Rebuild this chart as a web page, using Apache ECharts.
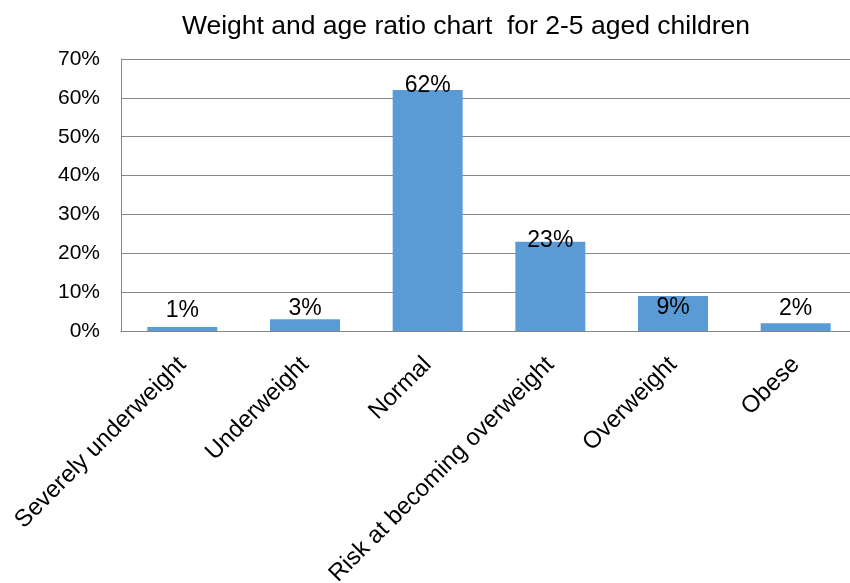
<!DOCTYPE html>
<html>
<head>
<meta charset="utf-8">
<title>Weight and age ratio chart for 2-5 aged children</title>
<script src="https://cdn.jsdelivr.net/npm/echarts@6/dist/echarts.min.js"></script>
<style>
  html, body { margin: 0; padding: 0; background: #fff; overflow: hidden; }
  #chart { width: 850px; height: 583px; }
</style>
</head>
<body>
<div id="chart"></div>
<script>
// Weight-for-age categories and the share of children (in %) in each
const categories = [
  'Severely underweight',
  'Underweight',
  'Normal',
  'Risk at becoming overweight',
  'Overweight',
  'Obese'
];
const shares = [1, 3, 62, 23, 9, 2];
const yTicks = [0, 10, 20, 30, 40, 50, 60, 70];

// Vertical nudge of each value label (px, positive = downward)
const labelNudge = [0, 6, 12, 16, 28, 2];

const FONT = '"Liberation Sans", Arial, sans-serif';

const chart = echarts.init(document.getElementById('chart'), null, { renderer: 'canvas' });

chart.setOption({
  animation: false,
  backgroundColor: '#ffffff',
  title: {
    text: 'Weight and age ratio chart  for 2-5 aged children',
    left: 461,
    top: 8,
    textAlign: 'center',
    textStyle: { fontFamily: FONT, fontSize: 26.5, fontWeight: 'normal', color: '#000' }
  },
  // the plot runs a little past the right edge of the canvas
  grid: {
    left: 121, width: 736, top: 59, height: 272,
    containLabel: false,
    outerBoundsMode: 'none'
  },
  xAxis: {
    type: 'category',
    data: categories,
    axisLine: { show: true, lineStyle: { color: '#868686', width: 1 } },
    axisTick: { show: false },
    axisLabel: {
      interval: 0,
      rotate: 45,
      margin: 30,
      fontFamily: FONT,
      fontSize: 24,
      color: '#000'
    }
  },
  yAxis: {
    type: 'value',
    min: yTicks[0],
    max: yTicks[yTicks.length - 1],
    interval: yTicks[1] - yTicks[0],
    axisLine: { show: true, lineStyle: { color: '#868686', width: 1 } },
    axisTick: { show: false },
    splitLine: { show: true, lineStyle: { color: '#868686', width: 1 } },
    axisLabel: {
      margin: 21,
      fontFamily: FONT,
      fontSize: 21,
      color: '#000',
      formatter: v => v + '%'
    }
  },
  series: [{
    type: 'bar',
    barWidth: 70,
    itemStyle: { color: '#5B9BD5' },
    label: {
      show: true,
      position: 'top',
      distance: 5,
      fontFamily: FONT,
      fontSize: 23,
      color: '#000',
      formatter: p => p.value + '%'
    },
    data: shares.map((v, i) => ({
      value: v,
      label: { offset: [0, labelNudge[i]] }
    }))
  }]
});
</script>
</body>
</html>
